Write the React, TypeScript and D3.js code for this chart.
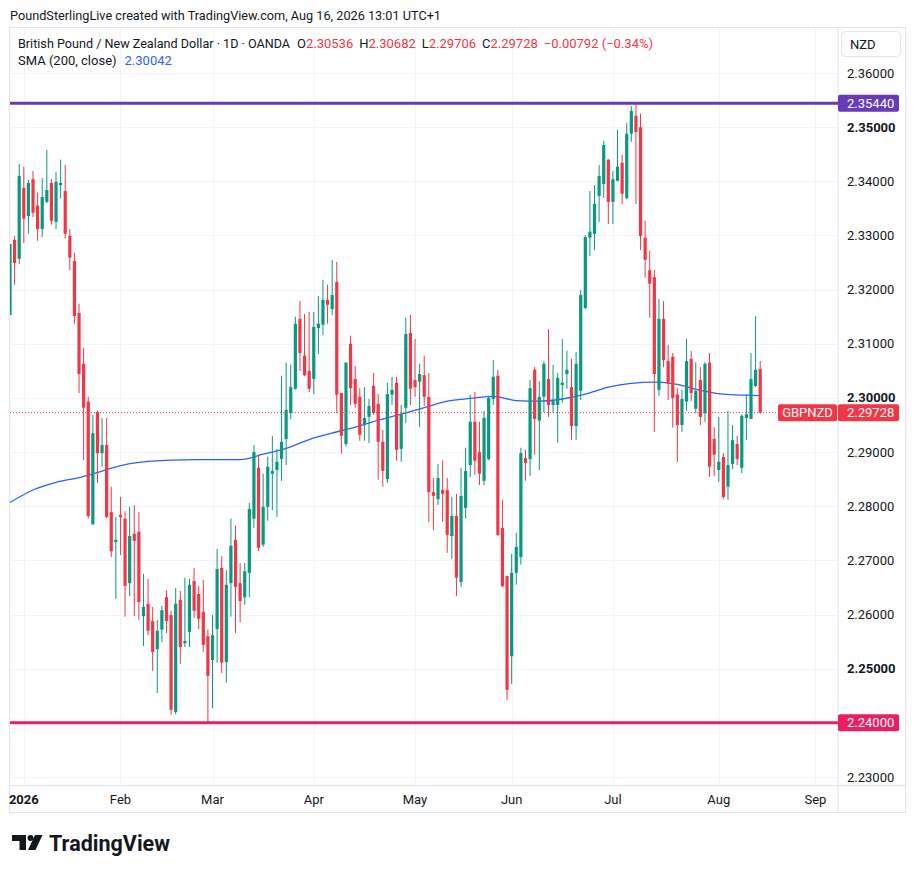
import React from "react";
import * as d3 from "d3";

// ---------- DATA ----------
// Daily OHLC, GBP/NZD (OANDA), 29 Dec 2025 .. 14 Aug 2026 (weekdays, no bar on 1 Jan)
const candles: [number, number, number, number][] = [
  [2.3153, 2.3284, 2.3153, 2.3284],
  [2.3292, 2.3299, 2.3209, 2.3249],
  [2.3257, 2.3432, 2.3247, 2.341],
  [2.3388, 2.3427, 2.3286, 2.3331],
  [2.3336, 2.3403, 2.3303, 2.3397],
  [2.3404, 2.3419, 2.3334, 2.3342],
  [2.3355, 2.3379, 2.329, 2.3312],
  [2.3312, 2.3406, 2.3297, 2.3371],
  [2.3362, 2.3458, 2.336, 2.3384],
  [2.3397, 2.3404, 2.332, 2.3327],
  [2.3325, 2.3417, 2.3312, 2.3399],
  [2.3393, 2.344, 2.3368, 2.3397],
  [2.3382, 2.343, 2.3294, 2.3303],
  [2.3299, 2.3312, 2.3236, 2.3259],
  [2.3253, 2.3268, 2.3137, 2.3151],
  [2.3157, 2.3174, 2.3009, 2.3044],
  [2.3063, 2.3092, 2.2885, 2.2982],
  [2.2993, 2.3002, 2.2777, 2.2782],
  [2.2767, 2.2969, 2.2765, 2.2935],
  [2.2974, 2.2976, 2.2843, 2.2898],
  [2.2898, 2.2963, 2.2873, 2.2913],
  [2.2913, 2.2963, 2.2778, 2.278],
  [2.2789, 2.2836, 2.2706, 2.2717],
  [2.2734, 2.278, 2.2629, 2.2738],
  [2.2784, 2.2817, 2.271, 2.278],
  [2.2777, 2.2791, 2.2596, 2.2653],
  [2.2658, 2.2799, 2.2634, 2.2745],
  [2.2749, 2.2802, 2.2597, 2.2736],
  [2.2753, 2.2789, 2.259, 2.2623],
  [2.2597, 2.2675, 2.2542, 2.2614],
  [2.262, 2.2666, 2.2562, 2.257],
  [2.2588, 2.2614, 2.2496, 2.2531],
  [2.2536, 2.259, 2.2455, 2.257],
  [2.2572, 2.2616, 2.2549, 2.2608],
  [2.2632, 2.2645, 2.2566, 2.2588],
  [2.2599, 2.2607, 2.2415, 2.2424],
  [2.242, 2.2649, 2.2416, 2.262],
  [2.2627, 2.2644, 2.2509, 2.254],
  [2.2547, 2.2668, 2.254, 2.2551],
  [2.2568, 2.2666, 2.254, 2.2655],
  [2.2662, 2.2686, 2.2594, 2.2607],
  [2.2638, 2.2653, 2.2573, 2.2592],
  [2.2605, 2.2664, 2.2531, 2.2544],
  [2.256, 2.2572, 2.24, 2.2487],
  [2.2516, 2.2599, 2.2427, 2.2562],
  [2.2573, 2.2721, 2.2511, 2.2684],
  [2.2686, 2.2708, 2.2492, 2.2511],
  [2.2512, 2.2682, 2.2474, 2.2655],
  [2.2658, 2.2777, 2.2596, 2.2727],
  [2.2738, 2.2764, 2.2566, 2.2651],
  [2.2658, 2.2695, 2.2586, 2.2625],
  [2.2632, 2.2695, 2.2618, 2.268],
  [2.2677, 2.2806, 2.2632, 2.2795],
  [2.2777, 2.2913, 2.276, 2.29],
  [2.2871, 2.2895, 2.2717, 2.2723],
  [2.2729, 2.286, 2.2725, 2.2799],
  [2.2799, 2.2891, 2.2773, 2.2873],
  [2.286, 2.293, 2.2793, 2.2865],
  [2.2867, 2.2906, 2.278, 2.2882],
  [2.2887, 2.3041, 2.2847, 2.2919],
  [2.2924, 2.3065, 2.2876, 2.2978],
  [2.2972, 2.3061, 2.2961, 2.302],
  [2.3017, 2.315, 2.3015, 2.3137],
  [2.3146, 2.3179, 2.305, 2.3083],
  [2.3078, 2.3155, 2.304, 2.3042],
  [2.305, 2.3159, 2.3011, 2.3017],
  [2.3035, 2.3159, 2.3007, 2.3131],
  [2.3129, 2.3188, 2.3081, 2.3137],
  [2.3135, 2.3218, 2.3116, 2.3181],
  [2.3181, 2.3209, 2.3137, 2.3172],
  [2.3164, 2.3255, 2.3153, 2.319],
  [2.3214, 2.3251, 2.2972, 2.3006],
  [2.3009, 2.3009, 2.2897, 2.293],
  [2.2915, 2.3066, 2.291, 2.3065],
  [2.31, 2.3115, 2.2987, 2.3018],
  [2.3035, 2.3059, 2.2982, 2.2989],
  [2.3002, 2.3018, 2.2921, 2.2932],
  [2.295, 2.302, 2.2921, 2.2963],
  [2.2965, 2.2998, 2.2917, 2.2985],
  [2.3022, 2.3046, 2.2969, 2.2972],
  [2.2989, 2.3007, 2.2849, 2.2919],
  [2.2919, 2.2941, 2.2836, 2.2865],
  [2.285, 2.3028, 2.2843, 2.3007],
  [2.3006, 2.3039, 2.2987, 2.3015],
  [2.3028, 2.3039, 2.2884, 2.2904],
  [2.2906, 2.2987, 2.2882, 2.297],
  [2.2982, 2.3148, 2.2954, 2.3118],
  [2.312, 2.3153, 2.2987, 2.3017],
  [2.3033, 2.3109, 2.3002, 2.302],
  [2.303, 2.3063, 2.2946, 2.3044],
  [2.3042, 2.3078, 2.2985, 2.3002],
  [2.3002, 2.3046, 2.2771, 2.2826],
  [2.2826, 2.2852, 2.2756, 2.2819],
  [2.2813, 2.2878, 2.2802, 2.2852],
  [2.283, 2.2885, 2.2771, 2.2823],
  [2.283, 2.2852, 2.2714, 2.2747],
  [2.2745, 2.2817, 2.2703, 2.2782],
  [2.2782, 2.2823, 2.2634, 2.2668],
  [2.266, 2.2871, 2.2651, 2.2819],
  [2.2797, 2.2908, 2.2777, 2.2865],
  [2.2876, 2.3006, 2.2854, 2.2956],
  [2.2956, 2.3011, 2.2858, 2.2884],
  [2.29, 2.2956, 2.2839, 2.286],
  [2.2847, 2.2976, 2.2839, 2.2963],
  [2.2887, 2.3002, 2.2885, 2.3],
  [2.2998, 2.307, 2.2987, 2.3039],
  [2.3041, 2.3052, 2.2745, 2.2747],
  [2.276, 2.2812, 2.2651, 2.2652],
  [2.2671, 2.2672, 2.2442, 2.2461],
  [2.2523, 2.2712, 2.2472, 2.2677],
  [2.2677, 2.2751, 2.2655, 2.2725],
  [2.2706, 2.2908, 2.2692, 2.2898],
  [2.2889, 2.2904, 2.2847, 2.288],
  [2.2887, 2.3033, 2.2856, 2.3018],
  [2.3052, 2.3057, 2.2895, 2.2961],
  [2.2958, 2.3031, 2.2867, 2.3002],
  [2.3002, 2.3068, 2.2974, 2.3063],
  [2.3035, 2.3127, 2.2965, 2.2987],
  [2.2987, 2.3061, 2.2972, 2.2994],
  [2.2987, 2.3046, 2.2917, 2.3037],
  [2.3024, 2.3109, 2.2991, 2.3028],
  [2.3044, 2.3087, 2.3017, 2.3052],
  [2.302, 2.3072, 2.2922, 2.2948],
  [2.2948, 2.3085, 2.2922, 2.3063],
  [2.3013, 2.3199, 2.2996, 2.319],
  [2.3166, 2.3301, 2.3164, 2.3297],
  [2.3296, 2.3382, 2.3262, 2.3307],
  [2.3303, 2.3393, 2.3273, 2.3358],
  [2.3373, 2.343, 2.3325, 2.341],
  [2.3395, 2.3475, 2.3369, 2.3467],
  [2.344, 2.3441, 2.3321, 2.3362],
  [2.3362, 2.3419, 2.3321, 2.3404],
  [2.3401, 2.3495, 2.34, 2.3427],
  [2.3434, 2.3449, 2.3358, 2.3377],
  [2.3369, 2.3508, 2.3367, 2.3488],
  [2.3488, 2.3539, 2.3473, 2.353],
  [2.3521, 2.3544, 2.3358, 2.3491],
  [2.35, 2.3525, 2.3273, 2.3299],
  [2.3296, 2.3327, 2.3222, 2.3255],
  [2.3236, 2.3272, 2.3148, 2.3211],
  [2.3223, 2.3236, 2.2937, 2.3044],
  [2.3015, 2.3183, 2.3004, 2.3146],
  [2.3146, 2.3179, 2.3057, 2.307],
  [2.3068, 2.3098, 2.2996, 2.3026],
  [2.3076, 2.3083, 2.2945, 2.3],
  [2.3006, 2.3018, 2.2882, 2.295],
  [2.295, 2.3015, 2.2937, 2.2998],
  [2.2993, 2.3109, 2.2976, 2.3068],
  [2.3072, 2.3087, 2.2994, 2.3009],
  [2.298, 2.3066, 2.2972, 2.3013],
  [2.3033, 2.3057, 2.295, 2.2965],
  [2.2972, 2.3066, 2.2956, 2.3063],
  [2.3065, 2.3083, 2.2854, 2.2873],
  [2.2924, 2.2946, 2.2856, 2.2895],
  [2.2867, 2.2965, 2.2845, 2.2882],
  [2.2891, 2.2898, 2.2813, 2.2817],
  [2.2836, 2.2976, 2.2812, 2.2876],
  [2.2878, 2.295, 2.2869, 2.2922],
  [2.2915, 2.293, 2.2876, 2.2887],
  [2.2871, 2.297, 2.2861, 2.2967],
  [2.2963, 2.3007, 2.2922, 2.297],
  [2.2961, 2.3083, 2.2961, 2.3035],
  [2.3022, 2.3151, 2.302, 2.3052],
  [2.30536, 2.30682, 2.29706, 2.29728],
];

// SMA(200, close) readings: [bar index, value]
const smaPoints: [number, number][] = [
  [0, 2.2807], [5, 2.283], [10, 2.2844], [15, 2.2853], [20, 2.2865], [25, 2.2877],
  [30, 2.2883], [35, 2.2885], [40, 2.2886], [45, 2.2886], [50, 2.2886], [55, 2.2896],
  [60, 2.2907], [65, 2.2923], [70, 2.2935], [75, 2.2946], [80, 2.2959], [85, 2.297],
  [90, 2.2982], [95, 2.2994], [100, 2.2999], [105, 2.3003], [110, 2.2995], [115, 2.2994],
  [120, 2.2998], [125, 2.3007], [130, 2.302], [135, 2.3027], [140, 2.3029], [145, 2.3025],
  [150, 2.3014], [155, 2.3007], [160, 2.3005], [163, 2.30042],
];

const priceTicks = [2.23, 2.24, 2.25, 2.26, 2.27, 2.28, 2.29, 2.3, 2.31, 2.32, 2.33, 2.34, 2.35, 2.36];
const boldTicks = [2.25, 2.3, 2.35];
const monthLabels = ["2026", "Feb", "Mar", "Apr", "May", "Jun", "Jul", "Aug", "Sep"];
const levelPrices = [2.3544, 2.24];
const levelColors = ["#673AB7", "#E91E63"];
const symbolName = "GBPNZD";
const currency = "NZD";
const smaLast = 2.30042;
const titleText = "British Pound / New Zealand Dollar · 1D · OANDA";
const headerText = "PoundSterlingLive created with TradingView.com, Aug 16, 2026 13:01 UTC+1";

// trading days (weekdays, no bar on New Year's Day)
function tradingDays(count: number): Date[] {
  const out: Date[] = [];
  const d = new Date(2025, 11, 29);
  while (out.length < count) {
    const wd = d.getDay();
    const ny = d.getMonth() === 0 && d.getDate() === 1;
    if (wd !== 0 && wd !== 6 && !ny) out.push(new Date(d));
    d.setDate(d.getDate() + 1);
  }
  return out;
}

const UP = "#089981";
const DOWN = "#F23645";
const TEXT = "#131722";
const GRID = "#f0f3fa";
const BORDER = "#e0e3eb";
const FONT = "Roboto, 'Noto Sans', sans-serif";

export default function App() {
  const W = 915, H = 873;
  const plotL = 10, plotR = 838, plotT = 27, plotB = 785;
  const x = d3.scaleLinear().domain([0, candles.length - 1]).range([10, 760.2]);
  const y = d3.scaleLinear().domain([2.23, 2.36]).range([777, 73]);

  const days = tradingDays(190);
  const monthIdx: number[] = [];
  for (let m = 0; m < monthLabels.length; m++) {
    const i = days.findIndex((d) => d.getFullYear() === 2026 && d.getMonth() === m);
    monthIdx.push(i);
  }

  const smaLine = d3
    .line<[number, number]>()
    .x((d) => x(d[0]))
    .y((d) => y(d[1]))
    .curve(d3.curveMonotoneX);

  const last = candles[candles.length - 1];
  const lastClose = last[3];
  const lastColor = lastClose >= last[0] ? UP : DOWN;
  const fmt = d3.format(".5f");
  const sgnFmt = (v: number) => (v < 0 ? "\u2212" : "+") + d3.format(".5f")(Math.abs(v));
  const prevClose = candles[candles.length - 2][3];
  const chg = lastClose - prevClose;
  const chgPct = (chg / prevClose) * 100;

  const bw = 3.2;

  return (
    <svg
      width={W}
      height={H}
      style={{ position: "absolute", left: 0, top: 0, background: "#fff", fontFamily: FONT }}
    >
      <rect x={0} y={0} width={W} height={H} fill="#fff" />
      <defs>
        <clipPath id="plot">
          <rect x={plotL} y={plotT} width={plotR - plotL} height={plotB - plotT} />
        </clipPath>
      </defs>

      {/* header */}
      <text x={10} y={20} fontSize={13.5} fill={TEXT} textLength={431} lengthAdjust="spacingAndGlyphs">
        {headerText}
      </text>

      {/* frame */}
      <rect x={9.5} y={27.5} width={896} height={785} fill="none" stroke={BORDER} strokeWidth={1} />
      <line x1={9.5} x2={905.5} y1={785.5} y2={785.5} stroke={BORDER} />
      <line x1={838} x2={838} y1={27.5} y2={812.5} stroke={BORDER} />

      {/* grid */}
      {priceTicks.map((p) => (
        <line key={"g" + p} x1={plotL} x2={plotR} y1={Math.round(y(p)) + 0.5} y2={Math.round(y(p)) + 0.5} stroke={GRID} />
      ))}
      {monthIdx.map((i, k) => (
        <line key={"v" + k} x1={Math.round(x(i)) + 0.5} x2={Math.round(x(i)) + 0.5} y1={plotT} y2={plotB} stroke={GRID} />
      ))}

      <g clipPath="url(#plot)">
        {/* SMA */}
        <path d={smaLine(smaPoints) || ""} fill="none" stroke="#2962FF" strokeWidth={1.3} />

        {/* candles */}
        {candles.map((c, i) => {
          const [o, h, l, cl] = c;
          const col = cl >= o ? UP : DOWN;
          const cx = x(i);
          const top = y(Math.max(o, cl));
          const bot = y(Math.min(o, cl));
          return (
            <g key={i}>
              <line x1={cx} x2={cx} y1={y(h)} y2={y(l)} stroke={col} strokeWidth={1} />
              <rect x={cx - bw / 2} y={top} width={bw} height={Math.max(1, bot - top)} fill={col} />
            </g>
          );
        })}

        {/* horizontal levels */}
        {levelPrices.map((p, k) => (
          <line key={"lv" + k} x1={plotL} x2={plotR} y1={y(p)} y2={y(p)} stroke={levelColors[k]} strokeWidth={3} />
        ))}

        {/* last price line */}
        <line x1={plotL} x2={778} y1={y(lastClose)} y2={y(lastClose)} stroke={lastColor} strokeWidth={1} strokeDasharray="1 2" />
      </g>

      {/* price axis labels */}
      {priceTicks.map((p) => (
        <text
          key={"t" + p}
          x={847}
          y={y(p) + 4.5}
          fontSize={13}
          fill={TEXT}
          fontWeight={boldTicks.includes(p) ? 700 : 400}
        >
          {fmt(p)}
        </text>
      ))}

      {/* level labels */}
      {levelPrices.map((p, k) => (
        <g key={"lb" + k}>
          <rect x={838} y={y(p) - 8.5} width={61} height={17} rx={2} fill={levelColors[k]} />
          <text x={847} y={y(p) + 4.5} fontSize={13} fill="#fff">
            {fmt(p)}
          </text>
        </g>
      ))}

      {/* last price labels */}
      <rect x={778} y={y(lastClose) - 8.5} width={59} height={17} rx={2} fill={lastColor} />
      <text x={807.5} y={y(lastClose) + 4.5} fontSize={13} fill="#fff" textAnchor="middle">
        {symbolName}
      </text>
      <rect x={838} y={y(lastClose) - 8.5} width={61} height={17} rx={2} fill={lastColor} />
      <text x={847} y={y(lastClose) + 4.5} fontSize={13} fill="#fff">
        {fmt(lastClose)}
      </text>

      {/* currency box */}
      <rect x={841.5} y={31.5} width={59} height={25} rx={4} fill="#fff" stroke={BORDER} />
      <text x={850} y={48.5} fontSize={13} fill={TEXT}>
        {currency}
      </text>

      {/* time axis labels */}
      {monthIdx.map((i, k) => (
        <text
          key={"m" + k}
          x={x(i)}
          y={804}
          fontSize={13}
          fill={TEXT}
          textAnchor="middle"
          fontWeight={k === 0 ? 700 : 400}
        >
          {monthLabels[k]}
        </text>
      ))}

      {/* legend */}
      <text x={18} y={47.5} fontSize={13} fill={TEXT}>
        <tspan textLength={272} lengthAdjust="spacingAndGlyphs">{titleText}</tspan>
        <tspan dx={7}>O</tspan>
        <tspan fill={lastColor}>{fmt(last[0])}</tspan>
        <tspan dx={6}>H</tspan>
        <tspan fill={lastColor}>{fmt(last[1])}</tspan>
        <tspan dx={6}>L</tspan>
        <tspan fill={lastColor}>{fmt(last[2])}</tspan>
        <tspan dx={6}>C</tspan>
        <tspan fill={lastColor}>{fmt(last[3])}</tspan>
        <tspan dx={6} fill={lastColor}>
          {sgnFmt(chg)} ({chgPct < 0 ? "\u2212" : "+"}
          {Math.abs(chgPct).toFixed(2)}%)
        </tspan>
      </text>
      <text x={18} y={64.5} fontSize={13} fill={TEXT}>
        <tspan>SMA (200, close)</tspan>
        <tspan dx={8} fill="#2962FF">
          {fmt(smaLast)}
        </tspan>
      </text>

      {/* TradingView logo */}
      <g fill="#131722">
        <path d="M12 835 H26 V850 H19.5 V841 H12 Z" />
        <circle cx={30.5} cy={838} r={3} />
        <path d="M35 835 H42.5 L35.5 850 H28 Z" />
      </g>
      <text x={49} y={851} fontSize={22} fontWeight={700} fill="#131722" textLength={121} lengthAdjust="spacingAndGlyphs">
        TradingView
      </text>
    </svg>
  );
}
